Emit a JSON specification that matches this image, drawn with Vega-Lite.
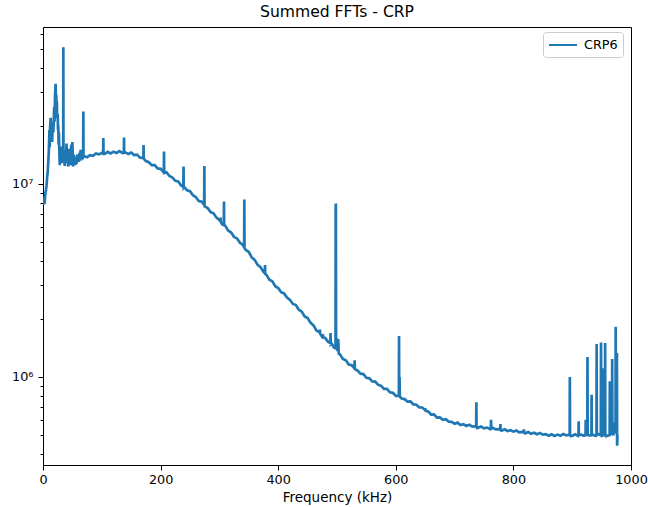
{
  "$schema": "https://vega.github.io/schema/vega-lite/v6.json",
  "width": 588,
  "height": 438,
  "autosize": {"type": "none"},
  "padding": {"left": 43, "top": 27, "right": 17, "bottom": 42},
  "title": {"text": "Summed FFTs - CRP", "fontSize": 15.6, "font": "DejaVu Sans", "fontWeight": "normal", "color": "#000000", "offset": 6},
  "config": {
    "view": {"stroke": "#000000", "strokeWidth": 1},
    "axis": {"grid": false, "domainColor": "#000000", "tickColor": "#000000", "labelColor": "#000000", "titleColor": "#000000", "labelFont": "DejaVu Sans", "titleFont": "DejaVu Sans", "labelFontSize": 12.8, "titleFontSize": 13.5, "titleFontWeight": "normal"}
  },
  "data": {"values": [
    {"f":0,"v":7.8e6},{"f":1,"v":8.0e6},{"f":2,"v":8.3e6},{"f":3,"v":8.2e6},{"f":4,"v":8.9e6},{"f":5,"v":9.3e6},{"f":6,"v":9.8e6},{"f":7,"v":1.08e7},{"f":8,"v":1.15e7},{"f":9,"v":1.3e7},
    {"f":10,"v":1.5e7},{"f":11,"v":1.9e7},{"f":11.5,"v":1.55e7},{"f":12,"v":1.95e7},{"f":13,"v":2.2e7},{"f":13.5,"v":1.7e7},{"f":14,"v":1.8e7},{"f":15,"v":1.95e7},{"f":15.5,"v":1.65e7},{"f":16,"v":1.85e7},
    {"f":17,"v":2.1e7},{"f":17.5,"v":1.85e7},{"f":18,"v":2.0e7},{"f":19,"v":2.5e7},{"f":19.5,"v":2.1e7},{"f":20,"v":2.3e7},{"f":20.5,"v":2.9e7},{"f":21.5,"v":3.3e7},{"f":22,"v":2.7e7},{"f":22.5,"v":2.9e7},
    {"f":23,"v":2.5e7},{"f":23.5,"v":2.7e7},{"f":24,"v":2.2e7},{"f":25,"v":2.3e7},{"f":25.5,"v":1.9e7},{"f":26,"v":2.0e7},{"f":26.5,"v":1.6e7},{"f":27,"v":1.85e7},{"f":28,"v":1.4e7},{"f":28.5,"v":1.25e7},
    {"f":29,"v":1.5e7},{"f":30,"v":1.56e7},{"f":30.5,"v":1.3e7},{"f":31,"v":1.45e7},{"f":32,"v":1.28e7},{"f":33,"v":1.45e7},{"f":34,"v":1.3e7},{"f":34.4,"v":1.35e7},{"f":34.6,"v":5.1e7},{"f":34.8,"v":1.35e7},
    {"f":35.5,"v":1.28e7},{"f":36,"v":1.45e7},{"f":37,"v":1.24e7},{"f":38,"v":1.5e7},{"f":39,"v":1.32e7},{"f":40,"v":1.62e7},{"f":41,"v":1.28e7},{"f":42,"v":1.42e7},{"f":43,"v":1.23e7},{"f":44,"v":1.52e7},
    {"f":45,"v":1.3e7},{"f":46,"v":1.45e7},{"f":47,"v":1.25e7},{"f":48,"v":1.6e7},{"f":49,"v":1.3e7},{"f":50,"v":1.65e7},{"f":51,"v":1.23e7},{"f":52,"v":1.42e7},{"f":53,"v":1.27e7},{"f":54,"v":1.38e7},
    {"f":55,"v":1.25e7},{"f":56,"v":1.35e7},{"f":57,"v":1.27e7},{"f":58,"v":1.42e7},{"f":59,"v":1.3e7},{"f":60,"v":1.38e7},{"f":61,"v":1.3e7},{"f":62,"v":1.45e7},{"f":63,"v":1.32e7},{"f":64,"v":1.5e7},
    {"f":65,"v":1.34e7},{"f":66,"v":1.48e7},{"f":67,"v":1.36e7},{"f":68.3,"v":1.42e7},{"f":68.6,"v":2.37e7},{"f":68.9,"v":1.38e7},
    {"f":70,"v":1.394e7},{"f":75,"v":1.376e7},{"f":80,"v":1.408e7},{"f":85,"v":1.399e7},{"f":90,"v":1.437e7},{"f":95,"v":1.423e7},{"f":100,"v":1.446e7},{"f":102.3,"v":1.44e7},{"f":102.6,"v":1.73e7},{"f":102.9,"v":1.43e7},
    {"f":105,"v":1.429e7},{"f":110,"v":1.465e7},{"f":115,"v":1.44e7},{"f":120,"v":1.469e7},{"f":125,"v":1.448e7},{"f":130,"v":1.478e7},{"f":135,"v":1.448e7},{"f":137.5,"v":1.46e7},{"f":137.8,"v":1.74e7},{"f":138.1,"v":1.45e7},
    {"f":140,"v":1.456e7},{"f":145,"v":1.429e7},{"f":150,"v":1.454e7},{"f":155,"v":1.411e7},{"f":160,"v":1.418e7},{"f":165,"v":1.369e7},{"f":170,"v":1.366e7},{"f":170.7,"v":1.36e7},{"f":171,"v":1.59e7},{"f":171.3,"v":1.35e7},
    {"f":175,"v":1.313e7},{"f":180,"v":1.295e7},{"f":185,"v":1.251e7},{"f":190,"v":1.252e7},{"f":195,"v":1.203e7},{"f":200,"v":1.197e7},{"f":205,"v":1.151e7},{"f":205.5,"v":1.15e7},{"f":205.8,"v":1.47e7},{"f":206.1,"v":1.14e7},
    {"f":210,"v":1.149e7},{"f":215,"v":1.099e7},{"f":220,"v":1.08e7},{"f":225,"v":1.038e7},{"f":230,"v":1.03e7},{"f":235,"v":9.8e6},{"f":238.7,"v":9.7e6},{"f":239,"v":1.23e7},{"f":239.3,"v":9.6e6},{"f":240,"v":9.66e6},
    {"f":245,"v":9.26e6},{"f":250,"v":9.17e6},{"f":255,"v":8.74e6},{"f":260,"v":8.54e6},{"f":265,"v":8.16e6},{"f":270,"v":8.08e6},{"f":274.1,"v":7.8e6},{"f":274.4,"v":1.24e7},{"f":274.7,"v":7.7e6},{"f":275,"v":7.65e6},
    {"f":280,"v":7.5e6},{"f":285,"v":7.15e6},{"f":290,"v":7.05e6},{"f":295,"v":6.69e6},{"f":300,"v":6.5e6},{"f":301.7,"v":6.4e6},{"f":302,"v":6.7e6},{"f":302.3,"v":6.35e6},{"f":305,"v":6.17e6},{"f":307.5,"v":6.15e6},
    {"f":307.8,"v":8.1e6},{"f":308.1,"v":6.1e6},{"f":310,"v":6.07e6},{"f":315,"v":5.73e6},{"f":320,"v":5.6e6},{"f":325,"v":5.32e6},{"f":330,"v":5.22e6},{"f":335,"v":4.96e6},{"f":340,"v":4.83e6},{"f":342.1,"v":4.7e6},
    {"f":342.4,"v":8.3e6},{"f":342.7,"v":4.65e6},{"f":345,"v":4.55e6},{"f":350,"v":4.44e6},{"f":355,"v":4.16e6},{"f":360,"v":4.04e6},{"f":365,"v":3.81e6},{"f":370,"v":3.71e6},{"f":375,"v":3.5e6},{"f":377.3,"v":3.45e6},
    {"f":377.6,"v":3.8e6},{"f":377.9,"v":3.42e6},{"f":380,"v":3.38e6},{"f":385,"v":3.19e6},{"f":390,"v":3.13e6},{"f":395,"v":2.95e6},{"f":400,"v":2.89e6},{"f":405,"v":2.75e6},{"f":410,"v":2.71e6},{"f":415,"v":2.58e6},
    {"f":420,"v":2.51e6},{"f":425,"v":2.39e6},{"f":430,"v":2.36e6},{"f":435,"v":2.23e6},{"f":440,"v":2.18e6},{"f":445,"v":2.06e6},{"f":450,"v":2.02e6},{"f":455,"v":1.91e6},{"f":460,"v":1.85e6},{"f":465,"v":1.74e6},
    {"f":470,"v":1.71e6},{"f":470.7,"v":1.69e6},{"f":471,"v":1.76e6},{"f":471.3,"v":1.68e6},{"f":475,"v":1.61e6},{"f":475.7,"v":1.62e6},{"f":476,"v":1.67e6},{"f":476.3,"v":1.61e6},{"f":480,"v":1.59e6},{"f":485,"v":1.52e6},
    {"f":488.7,"v":1.5e6},{"f":489,"v":1.69e6},{"f":489.3,"v":1.49e6},{"f":490,"v":1.5e6},{"f":495,"v":1.42e6},{"f":497.5,"v":1.41e6},{"f":497.8,"v":7.9e6},{"f":498.1,"v":7.85e6},{"f":498.4,"v":1.42e6},{"f":499,"v":1.4e6},
    {"f":500,"v":1.58e6},{"f":501,"v":1.36e6},{"f":502,"v":1.57e6},{"f":503,"v":1.32e6},{"f":505,"v":1.31e6},{"f":510,"v":1.24e6},{"f":515,"v":1.22e6},{"f":520,"v":1.16e6},{"f":525,"v":1.15e6},{"f":529.7,"v":1.11e6},
    {"f":530,"v":1.22e6},{"f":530.3,"v":1.1e6},{"f":535,"v":1.08e6},{"f":540,"v":1.04e6},{"f":545,"v":1.035e6},{"f":550,"v":9.9e5},{"f":555,"v":9.84e5},{"f":560,"v":9.49e5},{"f":565,"v":9.47e5},{"f":570,"v":9.11e5},
    {"f":575,"v":9.0e5},{"f":580,"v":8.67e5},{"f":585,"v":8.68e5},{"f":590,"v":8.33e5},{"f":595,"v":8.28e5},{"f":600,"v":7.99e5},{"f":605,"v":8.0e5},{"f":605.2,"v":7.95e5},{"f":605.5,"v":1.63e6},{"f":605.8,"v":8.0e5},
    {"f":606.4,"v":1.0e6},{"f":606.8,"v":7.9e5},{"f":610,"v":7.74e5},{"f":615,"v":7.68e5},{"f":620,"v":7.45e5},{"f":625,"v":7.47e5},{"f":630,"v":7.21e5},{"f":635,"v":7.18e5},{"f":640,"v":6.95e5},{"f":645,"v":6.95e5},
    {"f":649.7,"v":6.75e5},{"f":650,"v":6.9e5},{"f":650.3,"v":6.7e5},{"f":655,"v":6.63e5},{"f":660,"v":6.39e5},{"f":665,"v":6.4e5},{"f":670,"v":6.16e5},{"f":675,"v":6.17e5},{"f":680,"v":6.0e5},{"f":685,"v":6.04e5},
    {"f":690,"v":5.87e5},{"f":695,"v":5.86e5},{"f":700,"v":5.72e5},{"f":705,"v":5.8e5},{"f":710,"v":5.64e5},{"f":715,"v":5.69e5},{"f":720,"v":5.58e5},{"f":725,"v":5.66e5},{"f":730,"v":5.53e5},{"f":735,"v":5.56e5},
    {"f":736.7,"v":5.5e5},{"f":737,"v":7.4e5},{"f":737.3,"v":5.5e5},{"f":740,"v":5.46e5},{"f":745,"v":5.54e5},{"f":750,"v":5.42e5},{"f":755,"v":5.47e5},{"f":760,"v":5.38e5},{"f":761.7,"v":5.4e5},{"f":762,"v":6.0e5},
    {"f":762.3,"v":5.4e5},{"f":765,"v":5.46e5},{"f":770,"v":5.35e5},{"f":775,"v":5.37e5},{"f":777.7,"v":5.33e5},{"f":778,"v":5.7e5},{"f":778.3,"v":5.3e5},{"f":780,"v":5.27e5},{"f":785,"v":5.36e5},{"f":790,"v":5.25e5},
    {"f":795,"v":5.3e5},{"f":800,"v":5.21e5},{"f":805,"v":5.28e5},{"f":810,"v":5.17e5},{"f":815,"v":5.2e5},{"f":817.7,"v":5.18e5},{"f":818,"v":5.35e5},{"f":818.3,"v":5.15e5},{"f":820,"v":5.1e5},{"f":825,"v":5.19e5},
    {"f":830,"v":5.08e5},{"f":835,"v":5.14e5},{"f":840,"v":5.05e5},{"f":845,"v":5.13e5},{"f":850,"v":5.03e5},{"f":855,"v":5.06e5},{"f":860,"v":4.96e5},{"f":865,"v":5.05e5},{"f":870,"v":4.95e5},{"f":875,"v":5.03e5},
    {"f":880,"v":4.96e5},{"f":885,"v":5.06e5},{"f":890,"v":4.98e5},{"f":895,"v":5.02e5},{"f":895.7,"v":5.0e5},{"f":896,"v":1.0e6},{"f":896.3,"v":5.0e5},{"f":900,"v":4.95e5},{"f":905,"v":5.05e5},{"f":910,"v":4.95e5},
    {"f":910.7,"v":5.0e5},{"f":911,"v":5.9e5},{"f":911.3,"v":5.0e5},{"f":915,"v":5.03e5},{"f":920,"v":4.96e5},{"f":922.7,"v":5.0e5},{"f":923,"v":6.0e5},{"f":923.3,"v":5.05e5},{"f":925,"v":5.06e5},{"f":925.7,"v":5.0e5},
    {"f":926,"v":1.27e6},{"f":926.3,"v":5.0e5},{"f":930,"v":4.98e5},{"f":932.7,"v":5.0e5},{"f":933,"v":8.1e5},{"f":933.3,"v":5.0e5},{"f":935,"v":5.02e5},{"f":940,"v":4.95e5},{"f":941.3,"v":5.0e5},{"f":941.6,"v":1.48e6},
    {"f":941.9,"v":5.0e5},{"f":945,"v":5.05e5},{"f":948.7,"v":5.0e5},{"f":949,"v":1.51e6},{"f":949.3,"v":5.0e5},{"f":950,"v":4.95e5},{"f":952.7,"v":5.0e5},{"f":953,"v":1.11e6},{"f":953.3,"v":5.0e5},{"f":955,"v":5.03e5},
    {"f":955.7,"v":5.0e5},{"f":956,"v":1.5e6},{"f":956.3,"v":5.0e5},{"f":960,"v":4.96e5},{"f":963.7,"v":5.0e5},{"f":964,"v":9.5e5},{"f":964.3,"v":5.0e5},{"f":965,"v":5.06e5},{"f":967.7,"v":5.2e5},{"f":968,"v":1.24e6},
    {"f":968.3,"v":5.2e5},{"f":970,"v":4.98e5},{"f":971,"v":5.8e5},{"f":972,"v":5.1e5},{"f":973.7,"v":5.3e5},{"f":974,"v":1.82e6},{"f":974.3,"v":5.5e5},{"f":975,"v":5.1e5},{"f":975.5,"v":5.6e5},{"f":976,"v":1.33e6},
    {"f":976.4,"v":4.4e5},{"f":977,"v":5.0e5}
  ]},
  "mark": {"type": "line", "strokeWidth": 2.7, "clip": true},
  "encoding": {
    "x": {"field": "f", "type": "quantitative", "scale": {"domain": [0, 1000], "nice": false, "zero": false},
      "axis": {"values": [0, 200, 400, 600, 800, 1000], "title": "Frequency (kHz)", "tickSize": 5, "labelPadding": 3, "titlePadding": 5, "format": "d", "labelFlush": false}},
    "y": {"field": "v", "type": "quantitative", "scale": {"type": "log", "domain": [350000, 65000000], "nice": false},
      "axis": {"title": null, "values": [400000, 500000, 600000, 700000, 800000, 900000, 1000000, 2000000, 3000000, 4000000, 5000000, 6000000, 7000000, 8000000, 9000000, 10000000, 20000000, 30000000, 40000000, 50000000, 60000000],
        "labelExpr": "datum.value == 1000000 ? '10⁶' : (datum.value == 10000000 ? '10⁷' : '')",
        "tickSize": {"condition": {"test": "datum.value == 1000000 || datum.value == 10000000", "value": 5}, "value": 3},
        "labelPadding": 5, "labelOverlap": false, "labelFlush": false, "labelBaseline": "middle"}},
    "color": {"datum": "CRP6", "type": "nominal", "scale": {"range": ["#1f77b4"]},
      "legend": {"title": null, "orient": "none", "legendX": 500, "legendY": 5, "symbolType": "M-2,0L2,0", "symbolSize": 196, "symbolOffset": 7, "symbolStrokeWidth": 2, "labelFontSize": 12.8, "labelFont": "DejaVu Sans", "labelColor": "#000000", "labelOffset": 13, "padding": 5, "strokeColor": "#cccccc", "fillColor": "#ffffff", "cornerRadius": 3}}
  }
}
